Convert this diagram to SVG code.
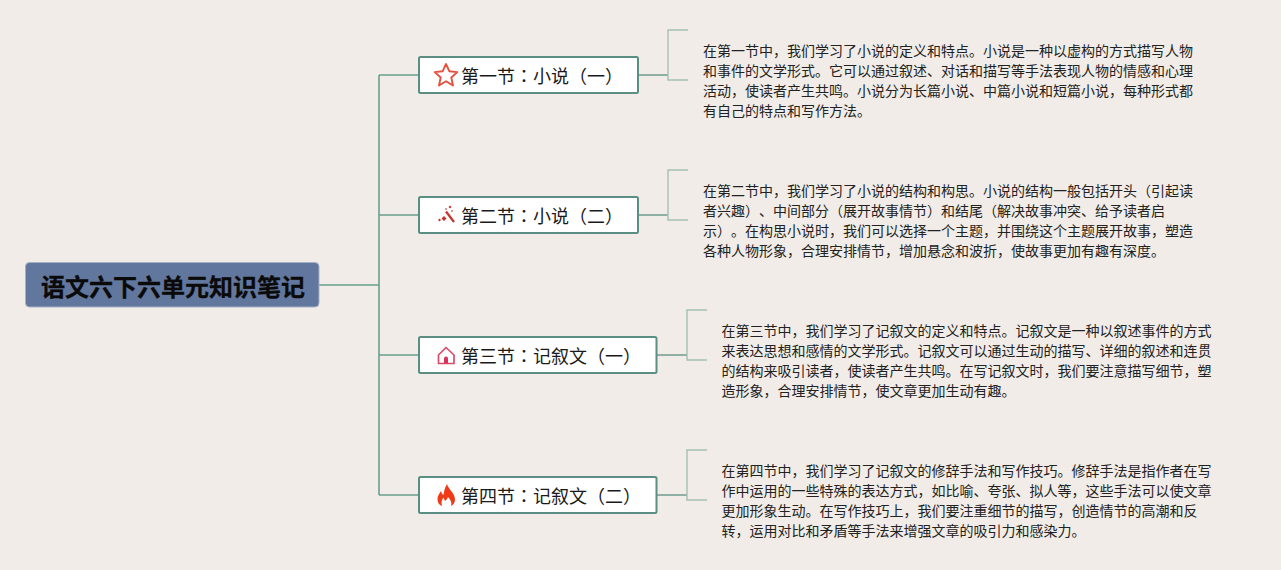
<svg xmlns="http://www.w3.org/2000/svg" width="1281" height="570" viewBox="0 0 1281 570">
<style>
text{font-family:"Noto Sans CJK SC","Liberation Sans",sans-serif;text-spacing-trim:space-all;font-kerning:none}
.bg{fill:#f1ece7}
.root{fill:#62779d;stroke:#a6b1c6;stroke-width:1}
.rt{font-size:24px;font-weight:700;fill:#0a0a0a;stroke:#0a0a0a;stroke-width:.3}
.box{fill:#fff;stroke:#5b8f84;stroke-width:2}
.t{font-size:18px;fill:#1a1a1a}
.c{font-family:"Noto Sans CJK TC","Noto Sans CJK SC",sans-serif}
.b{font-size:14px;fill:#222}
.l1{fill:none;stroke:#6aa08f;stroke-width:1.6}
.l2{fill:none;stroke:#a5c0b2;stroke-width:1.4}
.l3{fill:none;stroke:#6f9c90;stroke-width:1.6}
</style>
<rect class="bg" width="1281" height="570"/>
<g id="connectors">
<path class="l1" d="M319 285H379M379 75V495M379 75H419M379 215H419M379 355H419M379 495H419"/>
<path class="l3" d="M638 75H668M638 215H668M657 355H687M657 495H687"/>
<path class="l2" d="M688 30H668V80H688M688 170H668V220H688M707 310H687V360H707M707 450H687V500H707"/>
</g>
<g id="root"><rect class="root" x="25.500" y="262.500" width="293.500" height="44.500" rx="4"/><text class="rt" x="41" y="295.500">语文六下六单元知识笔记</text></g>
<g id="n1"><rect class="box" x="419" y="57" width="219" height="36" rx="1.500"/>
<path d="M446 64L449.300 71.200L457.300 72.100L451.300 77.500L453 85.500L446 81.300L439 85.500L440.700 77.500L434.700 72.100L442.700 71.200Z" fill="none" stroke="#e5513f" stroke-width="1.900" stroke-linejoin="round"/>
<text class="t" x="461" y="82.500">第一节<tspan class="c">：</tspan>小说（一）</text></g>
<g id="n2"><rect class="box" x="419" y="197" width="219" height="36" rx="1.500"/>
<path d="M446 211.500L454 222" stroke="#c9332e" stroke-width="2.200" fill="none"/><path d="M441.500 218.500l2.500 -2.500l2.500 2.500l-2.500 2.500zM438 220l1.500 -1.500l1.500 1.500l-1.500 1.500zM448.500 207l1.500 -1.500l1.500 1.500l-1.500 1.500zM445 209l1 -1l1 1l-1 1zM451 211l1 -1l1 1l-1 1z" fill="#c9332e"/>
<text class="t" x="461" y="222.500">第二节<tspan class="c">：</tspan>小说（二）</text></g>
<g id="n3"><rect class="box" x="419" y="337" width="237.500" height="36" rx="1.500"/>
<path d="M438.500 355L446 347.500L454 355V363.500H438.500Z" fill="none" stroke="#dc4a6a" stroke-width="1.700" stroke-linejoin="round"/><path d="M444 363.500V358.500a2 2 0 0 1 4 0V363.500Z" fill="#d8325a"/>
<text class="t" x="461" y="362.500">第三节<tspan class="c">：</tspan>记叙文（一）</text></g>
<g id="n4"><rect class="box" x="419" y="477" width="237.500" height="36" rx="1.500"/>
<path d="M447 484C448 489 455 493 455 499.500C455 503 453 505 451 506C452 503 451 500 448 497C447.500 499 446 500 445 501C444 499.500 444 498.500 443.500 497.500C441.500 500 441 503 442 506C439 505 437.500 502.500 437.500 499C437.500 495.500 439.500 493.500 441 491C441.500 493 442 494 443.500 495C444 491 445 487 447 484Z" fill="#ee3a17"/>
<text class="t" x="461" y="502.500">第四节<tspan class="c">：</tspan>记叙文（二）</text></g>
<g id="d1"><text class="b"><tspan x="703" y="56">在第一节中，我们学习了小说的定义和特点。小说是一种以虚构的方式描写人物</tspan><tspan x="703" y="76">和事件的文学形式。它可以通过叙述、对话和描写等手法表现人物的情感和心理</tspan><tspan x="703" y="96">活动，使读者产生共鸣。小说分为长篇小说、中篇小说和短篇小说，每种形式都</tspan><tspan x="703" y="116">有自己的特点和写作方法。</tspan></text></g>
<g id="d2"><text class="b"><tspan x="703" y="196">在第二节中，我们学习了小说的结构和构思。小说的结构一般包括开头（引起读</tspan><tspan x="703" y="216">者兴趣）、中间部分（展开故事情节）和结尾（解决故事冲突、给予读者启</tspan><tspan x="703" y="236">示）。在构思小说时，我们可以选择一个主题，并围绕这个主题展开故事，塑造</tspan><tspan x="703" y="256">各种人物形象，合理安排情节，增加悬念和波折，使故事更加有趣有深度。</tspan></text></g>
<g id="d3"><text class="b"><tspan x="721.500" y="336">在第三节中，我们学习了记叙文的定义和特点。记叙文是一种以叙述事件的方式</tspan><tspan x="721.500" y="356">来表达思想和感情的文学形式。记叙文可以通过生动的描写、详细的叙述和连贯</tspan><tspan x="721.500" y="376">的结构来吸引读者，使读者产生共鸣。在写记叙文时，我们要注意描写细节，塑</tspan><tspan x="721.500" y="396">造形象，合理安排情节，使文章更加生动有趣。</tspan></text></g>
<g id="d4"><text class="b"><tspan x="721.500" y="476">在第四节中，我们学习了记叙文的修辞手法和写作技巧。修辞手法是指作者在写</tspan><tspan x="721.500" y="496">作中运用的一些特殊的表达方式，如比喻、夸张、拟人等，这些手法可以使文章</tspan><tspan x="721.500" y="516">更加形象生动。在写作技巧上，我们要注重细节的描写，创造情节的高潮和反</tspan><tspan x="721.500" y="536">转，运用对比和矛盾等手法来增强文章的吸引力和感染力。</tspan></text></g>
</svg>
